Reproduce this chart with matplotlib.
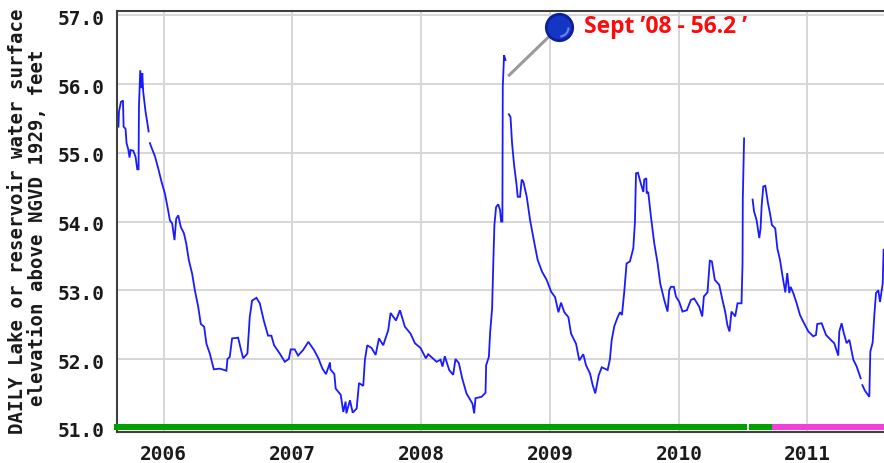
import numpy as np
import matplotlib.pyplot as plt
from matplotlib.path import Path
from matplotlib.transforms import ScaledTranslation

# lake level, one list per unbroken piece of record
Years_1 = [2005.650, 2005.654, 2005.669, 2005.685, 2005.690, 2005.705, 2005.713, 2005.726, 2005.736, 2005.744,
           2005.765, 2005.783, 2005.796, 2005.806, 2005.809, 2005.819, 2005.829, 2005.835, 2005.842, 2005.860,
           2005.873, 2005.884]
Levels_1 = [55.38, 55.60, 55.74, 55.76, 55.38, 55.35, 55.14, 55.05, 54.93, 55.04,
            55.03, 54.94, 54.76, 54.76, 55.67, 56.20, 55.94, 56.16, 55.89, 55.60,
            55.45, 55.31]

Years_2 = [2005.894, 2005.912, 2005.933, 2005.959, 2005.984, 2006.010, 2006.028, 2006.049, 2006.067, 2006.085,
           2006.098, 2006.114, 2006.134, 2006.158, 2006.176, 2006.196, 2006.222, 2006.243, 2006.269, 2006.289,
           2006.315, 2006.333, 2006.359, 2006.390, 2006.437, 2006.488, 2006.496, 2006.514, 2006.532, 2006.579,
           2006.599, 2006.618, 2006.651, 2006.669, 2006.687, 2006.721, 2006.747, 2006.778, 2006.811, 2006.837,
           2006.858, 2006.902, 2006.941, 2006.972, 2006.987, 2007.018, 2007.044, 2007.083, 2007.124, 2007.168,
           2007.202, 2007.233, 2007.261, 2007.292, 2007.295, 2007.326, 2007.336, 2007.375, 2007.395, 2007.413,
           2007.419, 2007.447, 2007.468, 2007.499, 2007.517, 2007.550, 2007.563, 2007.581, 2007.615, 2007.646,
           2007.672, 2007.705, 2007.744, 2007.762, 2007.804, 2007.835, 2007.873, 2007.917, 2007.951, 2007.995,
           2008.036, 2008.054, 2008.119, 2008.150, 2008.165, 2008.183, 2008.217, 2008.248, 2008.266, 2008.292,
           2008.318, 2008.351, 2008.398, 2008.411, 2008.421, 2008.468, 2008.499, 2008.504, 2008.525, 2008.535,
           2008.550, 2008.561, 2008.568, 2008.581, 2008.597, 2008.612, 2008.620, 2008.630, 2008.633, 2008.643,
           2008.654]
Levels_2 = [55.14, 55.05, 54.95, 54.77, 54.58, 54.41, 54.24, 54.02, 53.97, 53.73,
            54.04, 54.09, 53.92, 53.83, 53.68, 53.44, 53.24, 53.00, 52.76, 52.51,
            52.47, 52.22, 52.08, 51.85, 51.86, 51.83, 52.00, 52.03, 52.30, 52.31,
            52.15, 52.01, 52.08, 52.61, 52.85, 52.89, 52.81, 52.56, 52.34, 52.34,
            52.20, 52.08, 51.96, 52.00, 52.14, 52.14, 52.05, 52.13, 52.25, 52.13,
            52.01, 51.86, 51.78, 51.95, 51.85, 51.78, 51.57, 51.48, 51.23, 51.38,
            51.21, 51.40, 51.22, 51.28, 51.65, 51.61, 51.99, 52.20, 52.16, 52.06,
            52.30, 52.20, 52.42, 52.67, 52.56, 52.71, 52.47, 52.37, 52.23, 52.16,
            52.01, 52.07, 51.96, 51.99, 51.89, 52.04, 51.84, 51.77, 52.00, 51.94,
            51.72, 51.50, 51.35, 51.21, 51.43, 51.45, 51.51, 51.91, 52.03, 52.39,
            52.73, 53.50, 53.95, 54.21, 54.25, 54.17, 54.00, 54.00, 55.96, 56.42,
            56.35]

Years_3 = [2008.680, 2008.693, 2008.705, 2008.721, 2008.739, 2008.749, 2008.767, 2008.780, 2008.793, 2008.819,
           2008.845, 2008.879, 2008.904, 2008.938, 2008.974, 2009.008, 2009.039, 2009.065, 2009.085, 2009.111,
           2009.142, 2009.163, 2009.202, 2009.227, 2009.258, 2009.279, 2009.310, 2009.331, 2009.351, 2009.377,
           2009.401, 2009.447, 2009.465, 2009.478, 2009.499, 2009.525, 2009.543, 2009.558, 2009.576, 2009.594,
           2009.620, 2009.646, 2009.659, 2009.667, 2009.682, 2009.705, 2009.724, 2009.731, 2009.747, 2009.750,
           2009.762, 2009.783, 2009.809, 2009.835, 2009.855, 2009.886, 2009.912, 2009.925, 2009.938, 2009.961,
           2009.977, 2010.003, 2010.028, 2010.062, 2010.093, 2010.119, 2010.158, 2010.181, 2010.194, 2010.222,
           2010.233, 2010.240, 2010.256, 2010.279, 2010.313, 2010.338, 2010.359, 2010.377, 2010.393, 2010.408,
           2010.437, 2010.455, 2010.486, 2010.494, 2010.496, 2010.506]
Levels_3 = [55.56, 55.52, 55.14, 54.82, 54.55, 54.36, 54.36, 54.61, 54.58, 54.36,
            54.02, 53.68, 53.44, 53.27, 53.15, 52.98, 52.90, 52.68, 52.82, 52.68,
            52.61, 52.37, 52.22, 51.98, 52.07, 51.91, 51.79, 51.62, 51.50, 51.76,
            51.88, 51.84, 52.00, 52.27, 52.48, 52.61, 52.68, 52.64, 52.98, 53.39,
            53.42, 53.61, 54.00, 54.70, 54.71, 54.55, 54.43, 54.61, 54.63, 54.41,
            54.43, 54.07, 53.68, 53.39, 53.10, 52.86, 52.69, 53.00, 53.05, 53.05,
            52.91, 52.83, 52.69, 52.71, 52.86, 52.88, 52.76, 52.62, 52.91, 52.97,
            53.25, 53.43, 53.42, 53.15, 53.08, 52.86, 52.69, 52.49, 52.40, 52.69,
            52.62, 52.81, 52.81, 53.39, 54.33, 55.21]

Years_4 = [2010.572, 2010.583, 2010.603, 2010.624, 2010.634, 2010.642, 2010.655, 2010.671, 2010.691, 2010.707,
           2010.722, 2010.748, 2010.764, 2010.785, 2010.805, 2010.826, 2010.841, 2010.857, 2010.867, 2010.888,
           2010.914, 2010.940, 2010.966, 2011.005, 2011.043, 2011.064, 2011.074, 2011.108, 2011.142, 2011.178,
           2011.206, 2011.237, 2011.245, 2011.263, 2011.281, 2011.302, 2011.323, 2011.354, 2011.380, 2011.411]
Levels_4 = [54.32, 54.15, 54.02, 53.76, 53.90, 54.22, 54.51, 54.52, 54.27, 54.12,
            53.95, 53.90, 53.61, 53.44, 53.20, 52.97, 53.25, 52.96, 53.05, 52.96,
            52.81, 52.64, 52.54, 52.40, 52.33, 52.35, 52.51, 52.52, 52.35, 52.28,
            52.23, 52.05, 52.40, 52.52, 52.37, 52.23, 52.28, 51.99, 51.89, 51.72]

Years_5 = [2011.424, 2011.444, 2011.478, 2011.486, 2011.504, 2011.517, 2011.530, 2011.548, 2011.561, 2011.582,
           2011.589]
Levels_5 = [51.62, 51.54, 51.45, 52.11, 52.24, 52.64, 52.96, 53.00, 52.83, 53.10,
            53.59]

Pieces = [(Years_1, Levels_1), (Years_2, Levels_2), (Years_3, Levels_3), (Years_4, Levels_4), (Years_5, Levels_5)]

# status bar along the bottom of the plot: start, end of each run
Green_Runs = [(2005.615, 2010.530), (2010.542, 2010.723)]
Pink_Runs = [(2010.723, 2011.592)]

Y_Ticks = [51, 52, 53, 54, 55, 56, 57]
X_Ticks = [2006, 2007, 2008, 2009, 2010, 2010.994]
X_Labels = ['2006', '2007', '2008', '2009', '2010', '2011']

Pin_Tip = (2008.683, 56.13)
Pin_Head = (2009.071, 56.834)

fig = plt.figure(figsize=(8.84, 4.63), dpi=100)
ax = fig.add_axes([117.3/884, 1-432.3/463, 1-117.3/884, (432.3-10.7)/463])
ax.set_xlim(2005.641, 2011.592)
ax.set_ylim(50.934, 57.067)

ax.set_xticks(X_Ticks)
ax.set_xticklabels(X_Labels)
ax.set_yticks(Y_Ticks)
ax.set_yticklabels(['%.1f' % v for v in Y_Ticks])
ax.tick_params(axis='both', length=0, labelsize=14)
ax.tick_params(axis='x', pad=9)
ax.tick_params(axis='y', pad=9)
for lab in ax.get_xticklabels() + ax.get_yticklabels():
    lab.set_family('DejaVu Sans Mono')
    lab.set_fontweight('bold')
    lab.set_color('#1a1a1a')
# the y labels sit a little under their grid lines
for lab in ax.get_yticklabels():
    lab.set_transform(lab.get_transform() + ScaledTranslation(0, -2/100, fig.dpi_scale_trans))

ax.grid(True, color='#d6d6d6', linewidth=1.4)
ax.set_axisbelow(True)
ax.spines['right'].set_visible(False)
for side in ['left', 'top', 'bottom']:
    ax.spines[side].set_color('#404040')
    ax.spines[side].set_linewidth(1.5)

for years, levels in Pieces:
    ax.plot(years, levels, color='#1a1aff', linewidth=1.3, solid_joinstyle='miter')

# status bar
for start, end in Green_Runs:
    ax.barh(51.01, end-start, left=start, height=0.085, color='#00a000', clip_on=False, zorder=3)
for start, end in Pink_Runs:
    ax.barh(51.01, end-start, left=start, height=0.085, color='#f040d8', clip_on=False, zorder=3)

# pin and note
ax.plot([Pin_Tip[0], Pin_Head[0]], [Pin_Tip[1], Pin_Head[1]], color='#9a9a9a', linewidth=2.2, zorder=4)
ax.plot(*Pin_Head, marker='o', markersize=19, color='#1436c4', markeredgecolor='#0c1f9a', markeredgewidth=2, zorder=5)
ax.plot(*Pin_Head, marker=Path.arc(-85, 0), markersize=13, markerfacecolor='none', markeredgecolor='#6a84ea',
        markeredgewidth=1.5, zorder=6)
ax.text(2009.262, 56.83, 'Sept \u201908 - 56.2 \u2019', color='#ff0a0a', family='Open Sans', fontweight='bold',
        fontsize=16.5, va='center', ha='left', zorder=6)

fig.text(18/884, 1-221.5/463, 'DAILY Lake or reservoir water surface', rotation=90, family='DejaVu Sans Mono',
         fontweight='bold', fontsize=13.7, ha='center', va='center', color='#1a1a1a')
fig.text(38/884, 1-228/463, 'elevation above NGVD 1929, feet', rotation=90, family='DejaVu Sans Mono',
         fontweight='bold', fontsize=13.7, ha='center', va='center', color='#1a1a1a')

fig.savefig('out.png', dpi=100)
